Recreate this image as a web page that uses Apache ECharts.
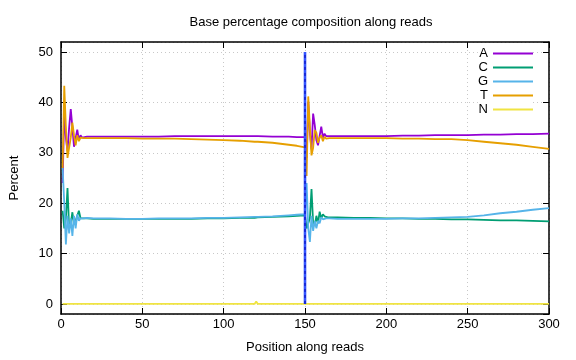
<!DOCTYPE html>
<html>
<head>
<meta charset="utf-8">
<script src="https://cdn.jsdelivr.net/npm/echarts@6/dist/echarts.min.js"></script>
<style>html,body{margin:0;padding:0;background:#fff;}#c{width:576px;height:360px;}</style>
</head>
<body>
<div id="c"></div>
<script>
const positions = [1,2,3,4,5,6,7,8,9,10,11,12,13,14,16,20,30,40,50,60,70,80,90,100,110,119,120,121,130,140,145,150,151,152,153,154,155,156,157,158,159,160,161,162,163,164,165,170,180,190,200,210,220,230,240,250,260,270,280,290,300];
const seriesNames = ['A','C','G','T','N'];
const valA = [24,38.3,33,30.4,35,38.7,35,31.2,31,34.6,32.5,33.5,33,33.3,
  33.2,33.2,33.2,33.2,33.2,33.2,33.3,33.3,33.3,33.3,33.3,33.3,33.2,33.3,33.2,33.2,33.1,33.1,
  29,40.2,34,30.7,37.8,35.5,32.5,31.5,31.5,35.2,33,33.8,33.3,33.4,33.3,
  33.3,33.3,33.3,33.3,33.4,33.4,33.5,33.5,33.5,33.6,33.6,33.7,33.7,33.8];
const valC = [18.5,15,17,23,15,16,18.2,15.8,16.5,17.5,18.5,17,17.2,17,
  17,16.9,16.9,16.9,16.9,16.9,16.9,16.9,17.0,17.0,17.1,17.1,17.1,17.2,17.3,17.4,17.5,17.6,
  15,14.9,17,22.8,16,15.5,17.5,16,18.3,17,17.8,17.4,17.3,17.2,17.2,
  17.2,17.1,17.1,17.0,17.0,16.9,16.9,16.8,16.8,16.7,16.6,16.6,16.5,16.4];
const valG = [27,20,11.8,17.5,14,17,13.5,17.5,15,17.8,16.5,17,17.1,17,
  17.1,17.0,17.0,16.9,16.9,17.0,17.0,17.0,17.1,17.1,17.2,17.3,17.2,17.3,17.4,17.6,17.7,17.8,
  24,15,12.3,17.5,14.5,16.5,15,16.5,16,17.2,16.8,17.1,17,17,17,
  16.9,16.9,16.9,16.9,17.0,17.0,17.1,17.2,17.3,17.6,18.0,18.3,18.7,19.0];
const valT = [27,43.3,35,29,28.7,33,36,33.5,31.5,33.5,32.3,33,32.7,32.9,
  32.9,32.9,32.9,32.9,32.8,32.8,32.8,32.7,32.6,32.5,32.4,32.2,32.1,32.2,32.0,31.6,31.4,31.1,
  25.4,41.2,35,29.5,31,34.5,34,32,33,33.5,32.3,33.2,32.8,33,32.9,
  32.9,32.9,32.9,32.9,32.8,32.8,32.7,32.7,32.5,32.2,31.9,31.6,31.2,30.8];
const valN = [0,0,0,0,0,0,0,0,0,0,0,0,0,0,
  0,0,0,0,0,0,0,0,0,0,0,0,0.5,0,0,0,0,0,
  0,0,0,0,0,0,0,0,0,0,0,0,0,0,0,
  0,0,0,0,0,0,0,0,0,0,0,0,0,0];
const readBoundary = [[150,0],[150,50]];
const xTicks = [0,50,100,150,200,250,300];
const yTicks = [0,10,20,30,40,50];

const colors = {A:'#9400d3', C:'#009e73', G:'#56b4e9', T:'#e69f00', N:'#f0e442'};
const values = {A:valA, C:valC, G:valG, T:valT, N:valN};
const FONT = 'Liberation Sans, Arial, sans-serif';

const chart = echarts.init(document.getElementById('c'), null, {renderer:'canvas'});

const series = seriesNames.map(n => ({
  name: n, type: 'line', xAxisIndex: 0, yAxisIndex: 0,
  data: positions.map((p, i) => [p, values[n][i]]),
  showSymbol: false, symbol: 'none',
  lineStyle: {color: colors[n], width: 1.8},
  itemStyle: {color: colors[n]},
  animation: false, z: 3
}));
series.push({
  type: 'line', data: readBoundary, showSymbol: false, symbol: 'none',
  lineStyle: {color: '#3355ff', width: 2.6}, animation: false, z: 4, silent: true
});
series.push({
  type: 'line', data: readBoundary, showSymbol: false, symbol: 'none',
  lineStyle: {color: '#0000b0', width: 1, type: [3, 3]}, animation: false, z: 5, silent: true
});

const axisCommonX = {
  type: 'value', min: 0, max: 300, interval: 50,
  axisLine: {show: true, onZero: false, lineStyle: {color: '#000', width: 1.5}},
  axisTick: {show: true, inside: true, length: 6, lineStyle: {color: '#000', width: 1}},
};
const axisCommonY = {
  type: 'value', min: -2, max: 52, splitNumber: 5,
  axisLine: {show: true, onZero: false, lineStyle: {color: '#000', width: 1.5}},
  axisTick: {show: true, inside: true, length: 6, lineStyle: {color: '#000', width: 1}},
};

chart.setOption({
  backgroundColor: '#fff',
  animation: false,
  title: {
    text: 'Base percentage composition along reads',
    left: 306, top: 11, textAlign: 'center',
    textStyle: {fontFamily: FONT, fontSize: 13, fontWeight: 'normal', color: '#000'}
  },
  grid: {left: 60, right: 27, top: 42, bottom: 46, containLabel: false},
  legend: {
    data: seriesNames,
    orient: 'vertical', right: 43, top: 47, align: 'right',
    icon: 'rect', itemWidth: 40, itemHeight: 2, itemGap: 1,
    textStyle: {fontFamily: FONT, fontSize: 13, lineHeight: 13, color: '#000'},
    backgroundColor: '#fff', padding: [0, 0, 0, 0], selectedMode: false
  },
  xAxis: [
    Object.assign({}, axisCommonX, {
      position: 'bottom',
      name: 'Position along reads', nameLocation: 'middle', nameGap: 27,
      nameTextStyle: {fontFamily: FONT, fontSize: 13, color: '#000'},
      axisLabel: {margin: 4, fontFamily: FONT, fontSize: 13, color: '#000',
        formatter: v => xTicks.includes(v) ? String(v) : ''},
      splitLine: {show: true, lineStyle: {color: '#c8c8c8', width: 1, type: [1, 3]}}
    }),
    Object.assign({}, axisCommonX, {
      position: 'top', axisLabel: {show: false}, splitLine: {show: false}
    })
  ],
  yAxis: [
    Object.assign({}, axisCommonY, {
      position: 'left',
      name: 'Percent', nameLocation: 'middle', nameGap: 40,
      nameTextStyle: {fontFamily: FONT, fontSize: 13, color: '#000'},
      axisLabel: {margin: 8, fontFamily: FONT, fontSize: 13, color: '#000', showMinLabel: false, showMaxLabel: false,
        formatter: v => yTicks.includes(v) ? String(v) : ''},
      splitLine: {show: true, lineStyle: {color: '#c8c8c8', width: 1, type: [1, 3]}}
    }),
    Object.assign({}, axisCommonY, {
      position: 'right', axisLabel: {show: false}, splitLine: {show: false}
    })
  ],
  series: series
});
</script>
</body>
</html>
